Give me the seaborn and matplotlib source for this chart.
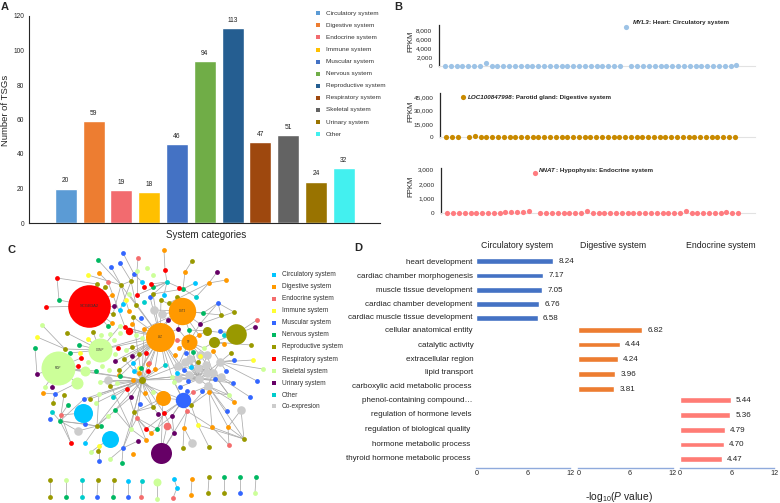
#!/bin/python

import pandas as pd
import matplotlib
matplotlib.use('Agg')
import matplotlib.pyplot as plt
import seaborn as sns
from matplotlib.collections import LineCollection

# Panel A
systems = ['Circulatory system', 'Digestive system', 'Endocrine system', 'Immune system',
           'Muscular system', 'Nervous system', 'Reproductive system', 'Respiratory system',
           'Skeletal system', 'Urinary system', 'Other']
tsg_counts = [20, 59, 19, 18, 46, 94, 113, 47, 51, 24, 32]
bar_colors = ['#5B9BD5', '#ED7D31', '#F26B6F', '#FFC000', '#4472C4', '#70AD47',
              '#255E91', '#9E480E', '#636363', '#997300', '#43F0EF']

# Panel B
heart_fpkm = [0, 0, 0, 0, 0, 0, 0, 600, 0, 0, 0, 0, 0, 0, 0, 0, 0, 0, 0, 0, 0, 0, 0, 0, 0, 0,
              0, 0, 0, 0, 0, 8600, 0, 0, 0, 0, 0, 0, 0, 0, 0, 0, 0, 0, 0, 0, 0, 0, 0, 0, 200]
parotid_fpkm = [0, 0, 0, 45000, 800, 1200, 0, 0, 0, 0, 0, 0, 0, 0, 0, 0, 0, 0, 0, 0, 0, 0, 0, 0, 0, 0,
                0, 0, 0, 0, 0, 0, 0, 0, 0, 0, 0, 0, 0, 0, 0, 0, 0, 0, 0, 0, 0, 0, 0, 0, 0]
hypophysis_fpkm = [0, 0, 0, 0, 0, 0, 0, 0, 0, 0, 60, 50, 40, 50, 100, 2750, 0, 0, 0, 0, 0, 0, 0, 0, 150, 0,
                   0, 0, 0, 0, 0, 0, 0, 0, 0, 0, 0, 0, 0, 0, 0, 120, 0, 0, 0, 0, 0, 0, 60, 0, 0]

# Panel C, nodes (pixel positions of the network layout)
net_legend = ['Circulatory system', 'Digestive system', 'Endocrine system', 'Immune system',
              'Muscular system', 'Nervous system', 'Reproductive system', 'Respiratory system',
              'Skeletal system', 'Urinary system', 'Other', 'Co-expresion']
net_colors = {'C': '#00C5FF', 'D': '#FF9900', 'E': '#F46D6D', 'I': '#FFFF33', 'M': '#3366FF', 'N': '#00B862',
              'P': '#999900', 'R': '#FF0000', 'S': '#CCFF99', 'U': '#660066', 'O': '#00CCCC', 'G': '#CCCCCC'}

circ_nodes = [(120, 310), (142, 282), (164, 295), (195, 283), (123, 304), (133, 363), (177, 373), (191, 367),
              (85, 443), (128, 481), (174, 479), (177, 488), (134, 371)]
dige_nodes = [(99, 273), (112, 295), (129, 311), (112, 323), (132, 324), (144, 329), (164, 250), (185, 272),
              (226, 280), (209, 283), (199, 335), (224, 344), (179, 348), (43, 393), (119, 375), (139, 373),
              (148, 364), (145, 393), (146, 440), (133, 454), (175, 355), (213, 351), (155, 369), (209, 392),
              (234, 402), (184, 428), (212, 427), (228, 427), (151, 433), (192, 479), (191, 495), (133, 380)]
endo_nodes = [(138, 258), (108, 282), (177, 340), (257, 320), (61, 415), (137, 418), (193, 392), (187, 411),
              (229, 445), (149, 363), (173, 498), (141, 497)]
immu_nodes = [(88, 275), (126, 300), (37, 337), (88, 339), (80, 353), (99, 446), (200, 356), (253, 360),
              (198, 425), (139, 368)]
musc_nodes = [(123, 253), (111, 267), (120, 263), (134, 274), (141, 318), (150, 297), (218, 303), (220, 331),
              (55, 394), (84, 399), (140, 404), (50, 419), (85, 424), (123, 448), (99, 461), (186, 353),
              (184, 370), (226, 371), (234, 360), (257, 381), (233, 383), (215, 379), (188, 381), (180, 387),
              (202, 391), (250, 397), (187, 391), (227, 411), (97, 497), (128, 497), (240, 493)]
nerv_nodes = [(98, 260), (59, 300), (108, 326), (79, 345), (35, 348), (153, 287), (183, 289), (203, 313),
              (189, 330), (70, 353), (96, 371), (141, 368), (68, 405), (115, 410), (60, 421), (101, 426),
              (193, 352), (157, 429), (122, 463), (120, 376), (66, 497), (113, 497), (224, 477), (240, 477),
              (256, 477)]
repr_nodes = [(121, 285), (131, 281), (97, 284), (105, 287), (136, 305), (113, 314), (133, 317), (67, 333),
              (93, 332), (65, 349), (132, 347), (192, 261), (153, 294), (161, 300), (177, 297), (169, 303),
              (234, 312), (221, 315), (251, 345), (119, 370), (124, 359), (139, 354), (64, 395), (90, 399),
              (53, 403), (110, 386), (134, 412), (97, 426), (98, 451), (231, 353), (198, 362), (191, 405),
              (153, 407), (244, 439), (183, 448), (209, 447), (50, 480), (50, 497), (98, 480), (114, 480),
              (209, 477), (208, 493), (224, 493)]
resp_nodes = [(144, 287), (137, 295), (57, 278), (46, 307), (125, 327), (118, 348), (165, 270), (151, 284),
              (179, 288), (78, 366), (81, 358), (127, 389), (146, 429), (71, 443), (164, 413), (146, 353),
              (148, 371)]
skel_nodes = [(137, 271), (147, 268), (129, 294), (120, 326), (42, 325), (110, 334), (120, 333), (136, 335),
              (101, 335), (114, 340), (142, 338), (153, 275), (204, 348), (88, 362), (102, 366), (109, 370),
              (115, 354), (45, 387), (100, 382), (117, 383), (99, 394), (96, 403), (108, 416), (131, 429),
              (91, 452), (110, 459), (263, 369), (172, 377), (174, 382), (153, 392), (229, 395), (126, 350),
              (150, 334), (66, 480), (157, 499), (255, 493)]
urin_nodes = [(114, 306), (217, 272), (255, 327), (168, 320), (200, 324), (178, 329), (115, 361), (37, 374),
              (52, 387), (131, 397), (138, 441), (158, 414), (172, 416), (174, 433), (132, 356)]
othe_nodes = [(144, 302), (167, 282), (196, 297), (224, 335), (113, 397), (52, 412), (165, 365), (82, 480),
              (82, 497), (142, 481)]
coex_nodes = [(154, 310), (162, 314), (108, 380), (78, 431), (192, 443), (241, 410), (190, 359), (207, 355),
              (220, 362), (178, 366), (206, 365), (198, 368), (213, 373), (221, 377), (189, 375), (199, 379),
              (208, 386), (207, 373), (185, 362), (200, 355), (178, 378)]

# large nodes: position, radius in pixels, group, label
hub_x = [89, 58, 100, 160, 182, 189, 163, 183, 161, 83, 110, 85, 77, 167, 142, 236, 207, 214, 129, 157]
hub_y = [306, 368, 350, 337, 311, 342, 398, 400, 453, 413, 439, 371, 383, 426, 380, 334, 331, 342, 331, 482]
hub_r = [21.3, 17, 12, 14.5, 13.7, 8, 7.5, 7.7, 10.5, 9.5, 8.5, 5, 6, 3.8, 3.5, 10.3, 4.5, 5.5, 3.7, 4]
hub_group = ['R', 'S', 'S', 'D', 'D', 'D', 'D', 'M', 'U', 'C', 'C', 'S', 'S', 'E', 'P', 'P', 'P', 'P', 'R', 'S']
hub_label = ['SCGB3A2', 'MGP', 'COMP', 'LYZ', 'CST3', 'TF', '', '', '', '', '', '', '', '', '', '', '', '', '', '']

# edges: one node and the nodes it is linked to
scgb = (89, 306)
mgp = (58, 368)
comp = (100, 350)
lyz = (160, 337)
cst = (182, 311)
tf = (189, 342)
mid = (142, 380)
bigm = (183, 400)
edge_groups = [
    (scgb, [(46, 307), (59, 300), (97, 284), (105, 287), (112, 295), (114, 306), (113, 314), (112, 323), (108, 326)]),
    ((57, 278), [(59, 300), (97, 284)]),
    ((121, 285), [(98, 260), (111, 267), (88, 275), (113, 314), (129, 311), (136, 305)]),
    ((131, 281), [(120, 263), (136, 305), (121, 285)]),
    ((134, 274), [(123, 253), (120, 310), (142, 282)]),
    ((137, 271), [(138, 258), (137, 295)]),
    ((108, 282), [(99, 273), (125, 327)]),
    ((65, 349), [(42, 325), (37, 337), (100, 350)]),
    (comp, [(67, 333), (88, 339), (93, 332), (120, 326), (142, 338), (160, 337), (79, 345), (70, 353)]),
    (mgp, [(37, 374), (45, 387), (52, 387), (85, 371), (77, 383), (81, 358), (78, 366), (96, 371), (142, 380)]),
    ((35, 348), [(37, 374)]),
    ((55, 394), [(43, 393), (53, 403), (77, 383)]),
    (mid, [(108, 380), (117, 383), (110, 386), (100, 382), (99, 394), (96, 403), (90, 399), (84, 399), (85, 371),
           (120, 376), (124, 359), (133, 363), (155, 369), (165, 365), (172, 377), (178, 366), (189, 375), (199, 379),
           (127, 389), (131, 397), (145, 393), (163, 398), (153, 392), (113, 397), (134, 412), (146, 353), (148, 371),
           (133, 317), (144, 329), (160, 337), (137, 418), (115, 410), (164, 413)]),
    (lyz, [(133, 317), (144, 329), (120, 326), (125, 327), (129, 331), (178, 329), (115, 361), (124, 359), (133, 363),
           (148, 371), (139, 373), (141, 368), (155, 369), (165, 365), (177, 373), (184, 370), (178, 366), (172, 377),
           (132, 356), (126, 350), (129, 294), (136, 305), (168, 320), (150, 297), (153, 294), (161, 300), (120, 376),
           (119, 370), (139, 354), (146, 353)]),
    (cst, [(161, 300), (169, 303), (177, 297), (203, 313), (200, 324), (178, 329), (154, 310), (162, 314), (168, 320),
           (189, 330), (199, 335), (150, 334), (144, 329), (221, 315)]),
    (tf, [(199, 335), (200, 324), (189, 330), (178, 329), (177, 340), (179, 348), (204, 348), (190, 359), (207, 355),
          (178, 366), (198, 368), (200, 355)]),
    ((192, 261), [(185, 272)]),
    ((165, 270), [(164, 250), (167, 282)]),
    ((185, 272), [(183, 289)]),
    ((183, 289), [(179, 288), (196, 297), (167, 282), (153, 294)]),
    ((167, 282), [(151, 284), (153, 287), (164, 295), (150, 297), (137, 295)]),
    ((209, 283), [(217, 272), (226, 280), (196, 297), (169, 303)]),
    ((195, 283), [(183, 289)]),
    ((218, 303), [(234, 312), (221, 315), (200, 324), (203, 313)]),
    ((234, 312), [(200, 324)]),
    ((236, 334), [(257, 320), (255, 327), (224, 335), (214, 342), (220, 331), (207, 331)]),
    ((214, 342), [(251, 345), (224, 344), (204, 348)]),
    ((207, 331), [(189, 330), (199, 335)]),
    ((220, 362), [(263, 369), (253, 360), (234, 360), (226, 371), (257, 381), (231, 353), (213, 351), (213, 373)]),
    ((199, 379), [(190, 359), (207, 355), (220, 362), (178, 366), (206, 365), (198, 368), (213, 373), (221, 377),
                  (189, 375), (208, 386), (207, 373), (185, 362), (200, 355), (178, 378), (186, 353), (193, 352),
                  (233, 383), (215, 379), (188, 381), (180, 387), (172, 377), (191, 367), (177, 373), (198, 362)]),
    ((213, 373), [(190, 359), (207, 355), (178, 366), (206, 365), (198, 368), (221, 377), (189, 375), (208, 386),
                  (185, 362), (200, 355), (233, 383), (250, 397), (229, 395), (234, 402)]),
    ((208, 386), [(229, 395), (227, 411), (234, 402), (202, 391), (209, 392), (193, 392), (191, 405), (244, 439)]),
    (bigm, [(187, 391), (193, 392), (191, 405), (187, 411), (172, 416), (164, 413), (146, 429), (163, 398),
            (174, 382), (172, 377), (133, 380)]),
    ((209, 392), [(229, 395), (191, 405), (212, 427), (228, 427)]),
    ((244, 439), [(212, 427), (228, 427), (241, 410), (198, 425)]),
    ((241, 410), [(228, 427)]),
    ((228, 427), [(229, 445)]),
    ((212, 427), [(229, 445), (187, 411)]),
    ((198, 425), [(209, 447), (191, 405)]),
    ((184, 428), [(192, 443), (183, 448), (187, 411)]),
    ((161, 453), [(163, 398), (167, 426), (174, 433), (187, 411)]),
    ((61, 415), [(60, 421), (68, 405), (83, 413), (71, 443)]),
    ((60, 421), [(97, 426), (78, 431), (71, 443), (85, 424), (52, 412), (64, 395), (84, 399)]),
    ((97, 426), [(101, 426), (85, 424), (78, 431), (85, 443), (99, 394), (108, 416), (131, 397), (133, 380)]),
    ((123, 448), [(131, 429), (110, 459), (122, 463), (138, 441), (134, 412)]),
    ((131, 429), [(134, 412), (115, 410), (137, 418), (146, 440), (108, 380)]),
    ((99, 446), [(98, 451), (91, 452), (99, 461), (110, 439)]),
    ((134, 412), [(127, 389), (153, 407), (142, 380), (137, 418), (163, 398)]),
    ((137, 418), [(146, 429), (146, 440), (157, 429), (151, 433)]),
    ((153, 407), [(163, 398), (158, 414), (142, 380), (133, 380)]),
    ((172, 416), [(183, 400), (151, 433), (174, 433)]),
    ((164, 413), [(157, 429), (174, 433)]),
    ((50, 480), [(50, 497)]), ((66, 480), [(66, 497)]), ((82, 480), [(82, 497)]), ((98, 480), [(97, 497)]),
    ((114, 480), [(113, 497)]), ((128, 481), [(128, 497)]), ((142, 481), [(141, 497)]), ((157, 482), [(157, 499)]),
    ((174, 479), [(177, 488)]), ((177, 488), [(173, 498)]), ((192, 479), [(191, 495)]), ((209, 477), [(208, 493)]),
    ((224, 477), [(224, 493)]), ((240, 477), [(240, 493)]), ((256, 477), [(255, 493)]),
]

# Panel D
terms = ['heart development', 'cardiac chamber morphogenesis', 'muscle tissue development',
         'cardiac chamber development', 'cardiac muscle tissue development', 'cellular anatomical entity',
         'catalytic activity', 'extracellular region', 'lipid transport', 'carboxylic acid metabolic process',
         'phenol-containing compound\u2026', 'regulation of hormone levels', 'regulation of biological quality',
         'hormone metabolic process', 'thyroid hormone metabolic process']
circ_values = [8.24, 7.17, 7.05, 6.76, 6.58]
dige_values = [6.82, 4.44, 4.24, 3.96, 3.81]
endo_values = [5.44, 5.36, 4.79, 4.70, 4.47]
go_ticks = ['0', '6', '12']

W, H = 780.0, 503.0
FONT = 'Liberation Sans'


def px_axes(fig, left, top, right, bottom, **kw):
  # Axes placed by the pixel box it has in the reference
  return fig.add_axes([left / W, 1 - bottom / H, (right - left) / W, (bottom - top) / H], **kw)


def panel_a(fig, canvas):
  ax = px_axes(fig, 29, 16, 380, 223)
  df = pd.DataFrame({'system': systems, 'count': tsg_counts})
  sns.barplot(data=df, x='system', y='count', hue='system', palette=bar_colors, legend=False,
              width=0.79, saturation=1, ax=ax)
  ax.set_xlim(-1.32, 11.3)
  ax.set_ylim(0, 120)
  ax.set_yticks(range(0, 121, 20))
  ax.set_xticks([])
  ax.set_xlabel('')
  ax.set_ylabel('')
  ax.tick_params(axis='y', labelsize=4.8, length=2, width=0.7, pad=1.5)
  sns.despine(ax=ax)
  for side in ['left', 'bottom']:
    ax.spines[side].set_linewidth(0.8)
  for i, v in enumerate(tsg_counts):
    ax.text(i, v + 2.4, str(v), ha='center', va='bottom', fontsize=4.8, color='#222222')

  canvas.text(205.7, 234.6, 'System categories', ha='center', va='center', fontsize=7)
  canvas.text(5.5, 110, 'Number of TSGs', ha='center', va='center', rotation=90, fontsize=6.8)
  for i, name in enumerate(systems):
    y = 13.3 + i * 12.08
    canvas.plot([318], [y], marker='s', ms=2.9, color=bar_colors[i], mew=0)
    canvas.text(326, y, name, va='center', fontsize=4.6, color='#333333')


def strip(fig, canvas, values, box, xlim, ylim, yticks, ticklabels, color, gene, rest, gene_xy, label_y):
  ax = px_axes(fig, *box)
  df = pd.DataFrame({'sample': range(len(values)), 'fpkm': values})
  sns.scatterplot(data=df, x='sample', y='fpkm', color=color, s=14, linewidth=0, clip_on=False, zorder=3, ax=ax)
  ax.set_xlim(*xlim)
  ax.set_ylim(*ylim)
  ax.set_xticks([])
  ax.set_yticks(yticks)
  ax.set_yticklabels(ticklabels)
  ax.set_xlabel('')
  ax.set_ylabel('')
  ax.tick_params(axis='y', labelsize=4.6, length=1.5, width=0.6, pad=3.5)
  sns.despine(ax=ax)
  ax.spines['left'].set_linewidth(0.9)
  ax.spines['bottom'].set_color('#E2E2E2')
  ax.spines['bottom'].set_linewidth(0.8)
  canvas.text(410.7, label_y, 'FPKM', rotation=90, ha='center', va='center', fontsize=5.6, color='#222222')
  first = canvas.text(gene_xy[0], gene_xy[1], gene, style='italic', weight='bold', fontsize=4.5, va='center')
  canvas.annotate(rest, xy=(1, 0.5), xycoords=first, va='center', weight='bold', fontsize=4.5)


def panel_b(fig, canvas):
  strip(fig, canvas, heart_fpkm, (439.3, 25, 755, 66), (-0.98, 53.2), (0, 9111),
        [0, 2000, 4000, 6000, 8000], ['0', '2,000', '4,000', '6,000', '8,000'], '#9DC3E6',
        'MYL3', ': Heart: Circulatory system', (632.7, 22.7), 41.7)
  strip(fig, canvas, parotid_fpkm, (440.3, 93, 755, 137.3), (-0.99, 53.5), (0, 49840),
        [0, 15000, 30000, 45000], ['0', '15,000', '30,000', '45,000'], '#C98A00',
        'LOC100847998', ': Parotid gland: Digestive system', (467.7, 97), 111)
  strip(fig, canvas, hypophysis_fpkm, (441.3, 168, 755, 212.7), (-1.03, 52.9), (0, 3118),
        [0, 1000, 2000, 3000], ['0', '1,000', '2,000', '3,000'], '#FF7C80',
        'NNAT', ': Hypophysis: Endocrine system', (539, 170.7), 186.7)


def panel_c(canvas):
  segments = []
  for start, ends in edge_groups:
    for end in ends:
      segments.append([start, end])
  canvas.add_collection(LineCollection(segments, colors='#ABABAB', linewidths=0.55, zorder=1))

  groups = [('C', circ_nodes), ('D', dige_nodes), ('E', endo_nodes), ('I', immu_nodes), ('M', musc_nodes),
            ('N', nerv_nodes), ('P', repr_nodes), ('R', resp_nodes), ('S', skel_nodes), ('U', urin_nodes),
            ('O', othe_nodes)]
  for key, nodes in groups:
    df = pd.DataFrame(nodes, columns=['x', 'y'])
    sns.scatterplot(data=df, x='x', y='y', color=net_colors[key], s=12, linewidth=0, zorder=3, ax=canvas)
  df = pd.DataFrame(coex_nodes, columns=['x', 'y'])
  sns.scatterplot(data=df, x='x', y='y', color=net_colors['G'], s=38, linewidth=0, zorder=2.5, ax=canvas)

  for x, y, r, g, name in zip(hub_x, hub_y, hub_r, hub_group, hub_label):
    sns.scatterplot(x=[x], y=[y], color=net_colors[g], s=(2 * r * 0.72) ** 2, linewidth=0, zorder=4, ax=canvas)
    if name:
      canvas.text(x, y, name, ha='center', va='center', fontsize=3 if r > 20 else 2, color='#333333', zorder=5)

  keys = ['C', 'D', 'E', 'I', 'M', 'N', 'P', 'R', 'S', 'U', 'O', 'G']
  for i, name in enumerate(net_legend):
    y = 274.7 + i * 12.05 if i < 11 else 406
    canvas.plot([274], [y], marker='s', ms=2.9, color=net_colors[keys[i]], mew=0)
    canvas.text(282, y, name, va='center', fontsize=4.7, color='#333333')


def go_bars(fig, values, terms_here, color, left, right, ylim):
  ax = px_axes(fig, left, 254, right, 468.3)
  df = pd.DataFrame({'term': terms_here, 'score': values})
  sns.barplot(data=df, x='score', y='term', color=color, saturation=1, width=0.39, ax=ax)
  ax.set_xlim(0, 10.07)
  ax.set_ylim(*ylim)
  # tick positions as drawn in the reference, its labels do not follow the bar scale
  ax.set_xticks([0, 5.5, 10.07])
  ax.set_xticklabels(go_ticks)
  ax.set_yticks([])
  ax.set_xlabel('')
  ax.set_ylabel('')
  ax.tick_params(axis='x', direction='in', length=3.6, width=1, color='#8FAADC', labelsize=5.2, pad=1.5)
  sns.despine(ax=ax, left=True)
  ax.spines['bottom'].set_color('#8FAADC')
  ax.spines['bottom'].set_linewidth(1)
  for i, v in enumerate(values):
    ax.text(v + 0.55, i + 0.03, '{:.2f}'.format(v), va='center', fontsize=5.8, color='#222222')


def panel_d(fig, canvas):
  # rows are not evenly spaced across the three blocks in the reference
  go_bars(fig, circ_values, terms[:5], '#4472C4', 476.3, 570.3, (14.53, -0.51))
  go_bars(fig, dige_values, terms[5:10], '#ED7D31', 578.3, 672.7, (9.4, -5.13))
  go_bars(fig, endo_values, terms[10:], '#FF7C75', 679.7, 774.3, (4.61, -9.86))

  term_y = [262, 276.3, 291, 304.3, 317.3, 331, 345.3, 359.7, 372.7, 386.3, 401, 414, 429.3, 444.3, 458.7]
  term_right = [472.7, 472.7, 472.7, 472.7, 472.7, 472.7, 473.3, 473.3, 473.3, 472, 472, 471.3, 470.7, 470, 470]
  for name, y, x in zip(terms, term_y, term_right):
    canvas.text(x, y, name, ha='right', va='center', fontsize=5.8, color='#222222')

  canvas.text(516.7, 245.3, 'Circulatory system', ha='center', va='center', fontsize=6.3, color='#222222')
  canvas.text(612.7, 245.5, 'Digestive system', ha='center', va='center', fontsize=6.3, color='#222222')
  canvas.text(720.7, 245.5, 'Endocrine system', ha='center', va='center', fontsize=6.3, color='#222222')
  canvas.text(619, 497, r'-log$_{10}$($\mathit{P}$ value)', ha='center', va='center', fontsize=7.4, color='#222222')


if __name__ == '__main__':
  sns.set_style('white')
  plt.rcParams['font.family'] = [FONT, 'DejaVu Sans']
  plt.rcParams['mathtext.fontset'] = 'custom'
  plt.rcParams['mathtext.rm'] = FONT
  plt.rcParams['mathtext.it'] = FONT + ':italic'
  plt.rcParams['mathtext.default'] = 'regular'

  fig = plt.figure(figsize=(7.8, 5.03), dpi=100)
  # overlay in pixel coordinates, above the axes so their backgrounds do not hide it
  canvas = fig.add_axes([0, 0, 1, 1], zorder=5)
  canvas.set_xlim(0, W)
  canvas.set_ylim(H, 0)
  canvas.axis('off')

  panel_a(fig, canvas)
  panel_b(fig, canvas)
  panel_c(canvas)
  panel_d(fig, canvas)
  canvas.set_xlim(0, W)
  canvas.set_ylim(H, 0)
  canvas.set_xlabel('')
  canvas.set_ylabel('')

  for letter, x, y in [('A', 5, 7), ('B', 398, 7), ('C', 11.7, 250), ('D', 358.5, 247.7)]:
    canvas.text(x, y, letter, ha='center', va='center', fontsize=8, weight='bold')

  fig.savefig('out.png', dpi=100)
